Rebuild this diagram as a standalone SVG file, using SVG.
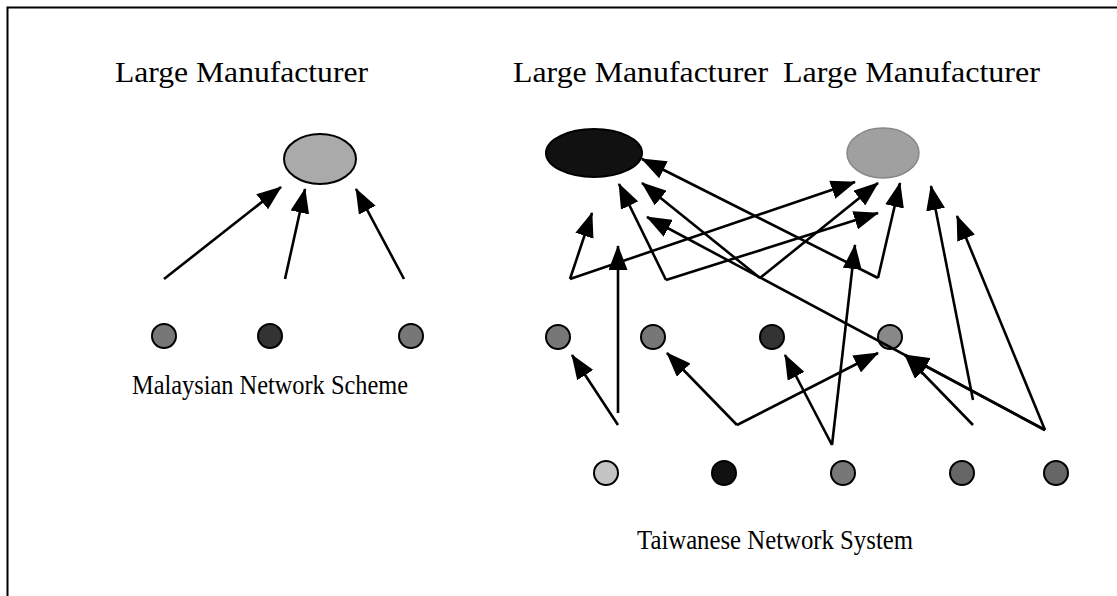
<svg xmlns="http://www.w3.org/2000/svg" width="1117" height="596" viewBox="0 0 1117 596">
  <style>
    .label { font-family: "Liberation Serif", "Times New Roman", serif; fill: #000; }
    .top { font-size: 30px; }
    .caption { font-size: 28px; }
    .edge { stroke: #000; stroke-width: 2.6; fill: none; marker-end: url(#head); }
    .node { stroke: #000; stroke-width: 2; }
  </style>
  <defs>
    <marker id="head" markerUnits="userSpaceOnUse" markerWidth="25" markerHeight="19" refX="24" refY="9.5" orient="auto">
      <path d="M0,0 L25,9.5 L0,19 z" fill="#000"/>
    </marker>
  </defs>
  <rect width="1117" height="596" fill="#fff"/>
  <!-- frame: top and left edges only -->
  <path d="M7.5,596 V7.5 H1117" fill="none" stroke="#000" stroke-width="2"/>

  <!-- Malaysian scheme -->
  <g id="my-large">
    <text class="label top" x="115" y="82" textLength="253" lengthAdjust="spacingAndGlyphs">Large Manufacturer</text>
    <ellipse class="node" cx="320" cy="159" rx="36" ry="25" fill="#aaa"/>
  </g>
  <g id="my-s1"><circle class="node" cx="164" cy="336" r="12" fill="#777"/></g>
  <g id="my-s2"><circle class="node" cx="270" cy="336" r="12" fill="#333"/></g>
  <g id="my-s3"><circle class="node" cx="411" cy="336" r="12" fill="#777"/></g>
  <text id="my-title" class="label caption" x="132" y="394" textLength="276" lengthAdjust="spacingAndGlyphs">Malaysian Network Scheme</text>

  <!-- Taiwanese system -->
  <g id="tw-large-a">
    <text class="label top" x="513" y="82" textLength="255" lengthAdjust="spacingAndGlyphs">Large Manufacturer</text>
    <ellipse class="node" cx="594" cy="153" rx="48" ry="24" fill="#111"/>
  </g>
  <g id="tw-large-b">
    <text class="label top" x="783" y="82" textLength="257" lengthAdjust="spacingAndGlyphs">Large Manufacturer</text>
    <ellipse cx="883" cy="153" rx="36" ry="25" fill="#a0a0a0" stroke="#888" stroke-width="1.5"/>
  </g>
  <g id="tw-m1"><circle class="node" cx="558" cy="337" r="12" fill="#777"/></g>
  <g id="tw-m2"><circle class="node" cx="653" cy="337" r="12" fill="#777"/></g>
  <g id="tw-m3"><circle class="node" cx="772" cy="337" r="12" fill="#333"/></g>
  <g id="tw-m4"><circle class="node" cx="890" cy="337" r="12" fill="#888"/></g>
  <g id="tw-b1"><circle class="node" cx="606" cy="473" r="12" fill="#c4c4c4"/></g>
  <g id="tw-b2"><circle class="node" cx="724" cy="473" r="12" fill="#111"/></g>
  <g id="tw-b3"><circle class="node" cx="843" cy="473" r="12" fill="#777"/></g>
  <g id="tw-b4"><circle class="node" cx="962" cy="473" r="12" fill="#666"/></g>
  <g id="tw-b5"><circle class="node" cx="1056" cy="473" r="12" fill="#666"/></g>
  <text id="tw-title" class="label caption" x="637" y="549" textLength="276" lengthAdjust="spacingAndGlyphs">Taiwanese Network System</text>

  <g id="connectors">
    <!-- Malaysian links -->
    <line class="edge" x1="164" y1="279" x2="281" y2="187"/>
    <line class="edge" x1="285" y1="279" x2="305" y2="189"/>
    <line class="edge" x1="404" y1="279" x2="356" y2="189"/>
    <!-- Taiwanese links -->
    <line class="edge" x1="570" y1="279" x2="592" y2="213"/>
    <line class="edge" x1="570" y1="279" x2="855" y2="182"/>
    <line class="edge" x1="618" y1="413" x2="618" y2="246"/>
    <line class="edge" x1="666" y1="280" x2="619" y2="184"/>
    <line class="edge" x1="666" y1="280" x2="878" y2="213"/>
    <line class="edge" x1="760" y1="278" x2="642" y2="183"/>
    <line class="edge" x1="760" y1="278" x2="878" y2="183"/>
    <line class="edge" x1="878" y1="278" x2="642" y2="159"/>
    <line class="edge" x1="878" y1="278" x2="900" y2="183"/>
    <line class="edge" x1="1045" y1="430" x2="647" y2="217"/>
    <line class="edge" x1="1045" y1="430" x2="957" y2="216"/>
    <line class="edge" x1="1045" y1="430" x2="905" y2="355"/>
    <line class="edge" x1="973" y1="425" x2="905" y2="355"/>
    <line class="edge" x1="973" y1="400" x2="931" y2="186"/>
    <line class="edge" x1="832" y1="445" x2="855" y2="245"/>
    <line class="edge" x1="832" y1="445" x2="785" y2="355"/>
    <line class="edge" x1="618" y1="425" x2="572" y2="355"/>
    <line class="edge" x1="737" y1="425" x2="667" y2="353"/>
    <line class="edge" x1="737" y1="425" x2="878" y2="353"/>
  </g>
</svg>
